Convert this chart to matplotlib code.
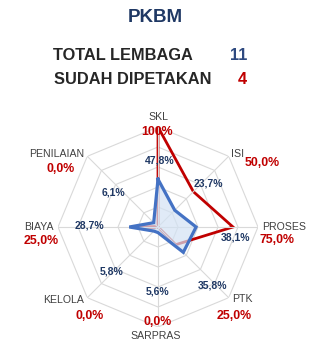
import numpy as np
import matplotlib
matplotlib.use("Agg")
import matplotlib.pyplot as plt

plt.rcParams["font.family"] = ["Liberation Sans", "DejaVu Sans"]

# data
categories = ["SKL", "ISI", "PROSES", "PTK", "SARPRAS", "KELOLA", "BIAYA", "PENILAIAN"]
mapped_pct = [100, 50, 75, 25, 0, 0, 25, 0]          # sudah dipetakan (red)
avg_pct = [47.8, 23.7, 38.1, 35.8, 5.6, 5.8, 28.7, 6.1]  # blue series
total_lembaga = 11
sudah_dipetakan = 4

W, H = 322, 345
CX, CY, R = 158, 227, 100

NAVY = "#1f3864"
RED = "#c00000"
BLUE = "#4472c4"
GRID = "#d9d9d9"


def fmt(v):
    if v == 100:
        return "100%"
    return f"{v:.1f}%".replace(".", ",")


def px(x, y):
    return x / W, 1 - y / H


fig = plt.figure(figsize=(W / 100, H / 100), dpi=100)
fig.patch.set_facecolor("white")

ax = fig.add_axes([(CX - R) / W, (H - CY - R) / H, 2 * R / W, 2 * R / H],
                  projection="polar")
ax.set_theta_zero_location("N")
ax.set_theta_direction(-1)
ax.set_ylim(0, 100)
ax.grid(False)
ax.spines["polar"].set_visible(False)
ax.set_xticks([])
ax.set_yticks([])
ax.patch.set_alpha(0)

n = len(categories)
theta = np.linspace(0, 2 * np.pi, n, endpoint=False)
theta_c = np.append(theta, theta[0])

# octagonal rings
for r in [20, 40, 60, 80, 100]:
    ax.plot(theta_c, [r] * (n + 1), color=GRID, lw=0.8, zorder=1)

# red series under spokes and blue fill
red = np.append(mapped_pct, mapped_pct[0])
ax.plot(theta_c, red, color=RED, lw=2.0, zorder=2, solid_joinstyle="miter")

# spokes
for t in theta:
    ax.plot([t, t], [0, 100], color=GRID, lw=0.8, zorder=3)

blue = np.append(avg_pct, avg_pct[0])
ax.fill(theta_c, blue, color="#d3e2f4", alpha=0.7, zorder=4, lw=0)
ax.plot(theta_c, blue, color=BLUE, lw=2.3, zorder=5, solid_joinstyle="miter")

# header
fig.text(*px(155, 18), "PKBM", ha="center", va="center", fontsize=13.5,
         fontweight="bold", color=NAVY)
fig.text(*px(53, 56), "TOTAL LEMBAGA", ha="left", va="center", fontsize=11.8,
         fontweight="bold", color="#262626")
fig.text(*px(247, 56), str(total_lembaga), ha="right", va="center", fontsize=11.8,
         fontweight="bold", color="#2f4a80")
fig.text(*px(54, 79), "SUDAH DIPETAKAN", ha="left", va="center", fontsize=11.8,
         fontweight="bold", color="#262626")
fig.text(*px(247, 79), str(sudah_dipetakan), ha="right", va="center", fontsize=11.8,
         fontweight="bold", color=RED)

# category label / red value / blue value positions (pixels)
cat_pos = [(158, 117), (238, 154), (284, 227), (242, 299),
           (156, 336), (64, 300), (39, 227), (57, 154)]
red_pos = [(157, 132), (262, 163), (277, 240), (234, 316),
           (158, 322), (90, 316), (41, 241), (61, 169)]
blue_pos = [(160, 160), (208, 184), (236, 238), (213, 285),
            (158, 291), (112, 271), (89, 226), (113, 193)]

for i, name in enumerate(categories):
    fig.text(*px(*cat_pos[i]), name, ha="center", va="center", fontsize=7.6,
             color="#404040")
    fig.text(*px(*red_pos[i]), fmt(mapped_pct[i]), ha="center", va="center",
             fontsize=8.9, fontweight="bold", color=RED)
    fig.text(*px(*blue_pos[i]), fmt(avg_pct[i]), ha="center", va="center",
             fontsize=7.5, fontweight="bold", color=NAVY, zorder=6)

fig.savefig("out.png", dpi=100)
